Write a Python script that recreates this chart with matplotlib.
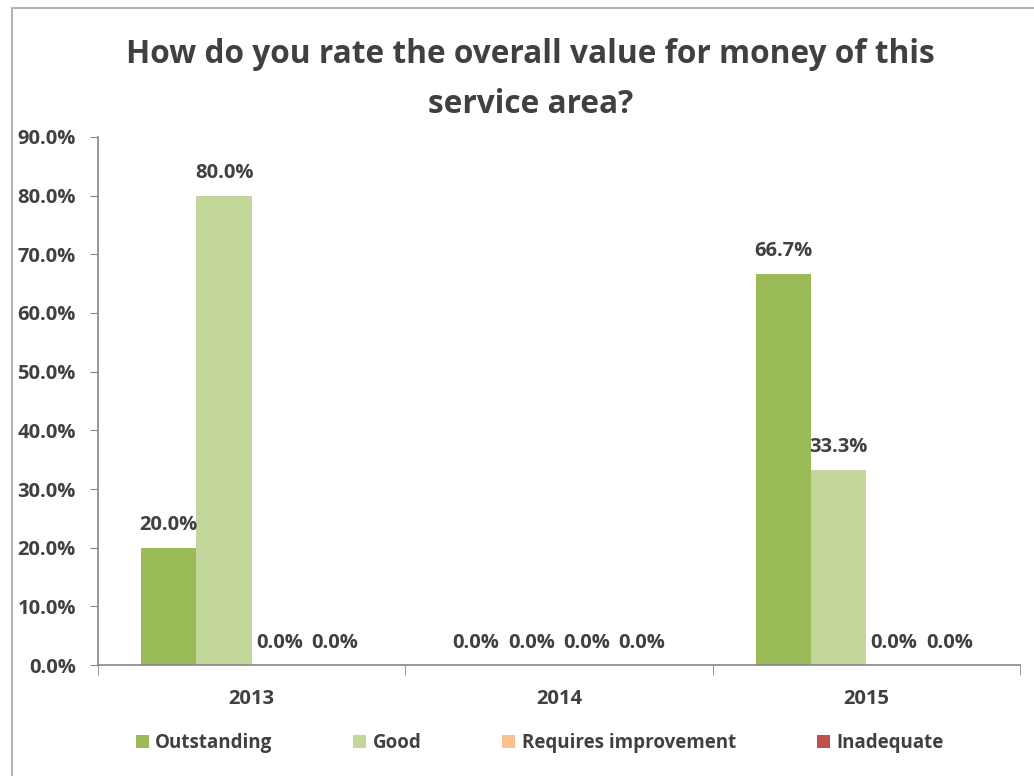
import matplotlib
matplotlib.use("Agg")
import matplotlib.pyplot as plt
from matplotlib.patches import Rectangle
from matplotlib.ticker import FuncFormatter, FixedLocator

years = ["2013", "2014", "2015"]
ratings = ["Outstanding", "Good", "Requires improvement", "Inadequate"]
outstanding = [20.0, 0.0, 66.7]
good = [80.0, 0.0, 33.3]
requires_improvement = [0.0, 0.0, 0.0]
inadequate = [0.0, 0.0, 0.0]
colors = ["#9BBB59", "#C3D69B", "#FAC090", "#C0504D"]

TEXT = "#404040"
plt.rcParams["font.family"] = ["Open Sans", "DejaVu Sans"]
plt.rcParams["font.weight"] = "bold"

fig = plt.figure(figsize=(10.34, 7.76), dpi=100)
ax = fig.add_axes([0.0948, 0.1430, 0.8917, 0.6805])

# outer chart frame
fig.add_artist(Rectangle((0.0116, -0.05), 1.1, 1.0397, transform=fig.transFigure,
                         fill=False, edgecolor="#A6A6A6", linewidth=1.2))

width = 0.18
series = [outstanding, good, requires_improvement, inadequate]
xs = range(len(years))
for i, (name, vals) in enumerate(zip(ratings, series)):
    pos = [x + (i - 1.5) * width for x in xs]
    bars = ax.bar(pos, vals, width, color=colors[i], label=name)
    for b, v in zip(bars, vals):
        ax.annotate(f"{v:.1f}%", (b.get_x() + b.get_width() / 2, v),
                    xytext=(0, 9), textcoords="offset points",
                    ha="center", va="bottom", fontsize=14.5,
                    color=TEXT, fontweight="bold")

ax.set_ylim(0, 90)
ax.set_xlim(-0.5, 2.5)
ax.set_yticks(range(0, 91, 10))
ax.yaxis.set_major_formatter(FuncFormatter(lambda v, p: f"{v:.1f}%"))
ax.set_xticks(list(xs))
ax.set_xticklabels(years)
ax.xaxis.set_minor_locator(FixedLocator([-0.5, 0.5, 1.5, 2.5]))
ax.tick_params(axis="x", which="major", length=0, pad=17, labelsize=14.5, labelcolor=TEXT)
ax.tick_params(axis="x", which="minor", length=7, color="#868686", direction="out")
ax.tick_params(axis="y", length=6, color="#868686", labelsize=14.5, labelcolor=TEXT, pad=10)
for lbl in ax.get_xticklabels() + ax.get_yticklabels():
    lbl.set_fontweight("bold")

for side in ["top", "right"]:
    ax.spines[side].set_visible(False)
for side in ["left", "bottom"]:
    ax.spines[side].set_color("#868686")
    ax.spines[side].set_linewidth(1.2)

fig.suptitle("How do you rate the overall value for money of this\nservice area?",
             x=0.513, y=0.951, fontsize=22.8, fontweight="bold", color=TEXT,
             linespacing=1.68, va="top")

fig.legend(loc="center", bbox_to_anchor=(0.522, 0.043), ncol=4, frameon=False,
           handlelength=0.7, handleheight=0.7, handletextpad=0.35,
           columnspacing=4.3, labelcolor=TEXT, prop={"weight": "bold", "size": 13.5})

fig.savefig("out.png", dpi=100)
